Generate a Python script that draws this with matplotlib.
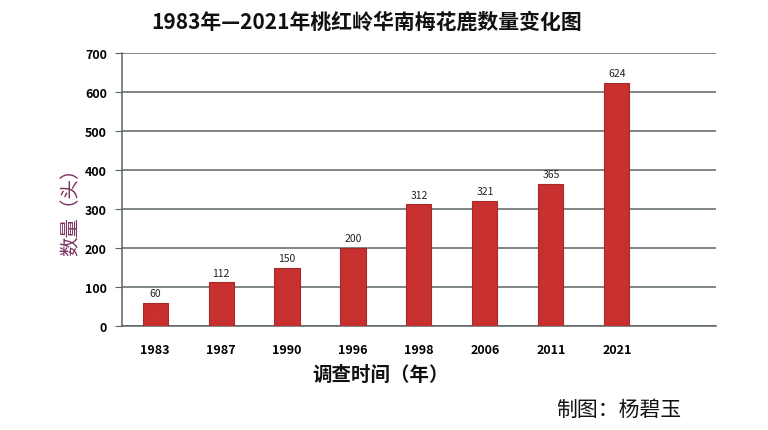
import numpy as np
import matplotlib.pyplot as plt

plt.rcParams['font.family'] = ['Noto Sans CJK SC', 'DejaVu Sans']

years = ['1983', '1987', '1990', '1996', '1998', '2006', '2011', '2021']
counts = [60, 112, 150, 200, 312, 321, 365, 624]
y_ticks = [0, 100, 200, 300, 400, 500, 600, 700]

fig = plt.figure(figsize=(7.68, 4.31), dpi=100)
ax = fig.add_axes([0.159, 0.241, 0.773, 0.634])

x = np.arange(len(years))
ax.bar(x, counts, width=0.38, color='#c8302f', edgecolor='#a52a2a', linewidth=0.8, zorder=3)
for xi, v in zip(x, counts):
    ax.text(xi, v + 12, str(v), ha='center', va='bottom', fontsize=7.5,
            fontweight='medium', color='#222222')

ax.set_xlim(-0.5, 8.5)
ax.set_ylim(0, 700)
ax.set_yticks(y_ticks)
ax.set_yticklabels([str(t) for t in y_ticks], fontsize=9, fontweight='bold')
ax.set_xticks(x)
ax.set_xticklabels(years, fontsize=9, fontweight='bold')
ax.tick_params(axis='x', length=0, pad=12)
ax.tick_params(axis='y', length=5, color='#5a6464', pad=6)
ax.grid(axis='y', color='#5a6464', linewidth=1.1, zorder=0)
for s in ['top', 'right']:
    ax.spines[s].set_visible(False)
for s in ['left', 'bottom']:
    ax.spines[s].set_color('#5a6464')
    ax.spines[s].set_linewidth(1.1)

fig.text(0.478, 0.948, '1983年—2021年桃红岭华南梅花鹿数量变化图', ha='center', va='center',
         fontsize=15, fontweight='bold', color='#111111')
fig.text(0.092, 0.52, '数量（头）', rotation=90, ha='center', va='center',
         fontsize=14, fontweight='medium', color='#7a3060')
fig.text(0.495, 0.13, '调查时间（年）', ha='center', va='center',
         fontsize=14, fontweight='bold', color='#111111')
fig.text(0.805, 0.048, '制图：杨碧玉', ha='center', va='center',
         fontsize=15, color='#111111')

fig.savefig('out.png', dpi=100)
